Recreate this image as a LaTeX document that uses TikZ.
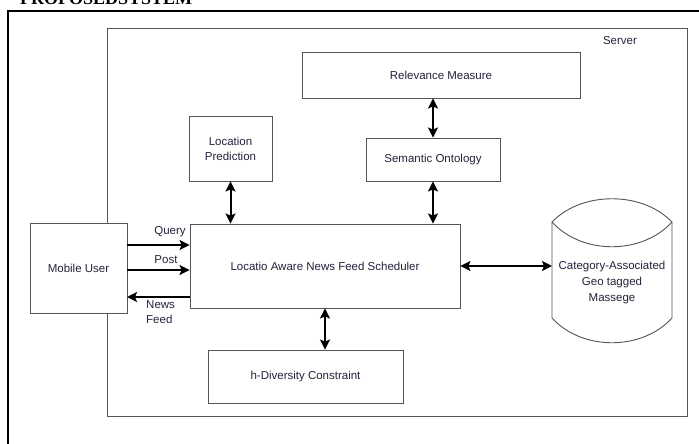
\documentclass[tikz,border=0pt]{standalone}
\usepackage{fontspec}
\setmainfont{Liberation Sans}
\newfontfamily\titlefont{Liberation Serif}
\usetikzlibrary{arrows.meta}
\definecolor{boxgray}{RGB}{85,85,85}
\definecolor{textnavy}{RGB}{35,35,60}

\begin{document}
\begin{tikzpicture}[x=1pt,y=-1pt,
    block/.style={draw=boxgray,line width=0.9pt,fill=white,text=textnavy,
      font=\fontsize{11.5}{15}\selectfont,align=center,inner sep=0pt},
    lbl/.style={text=textnavy,font=\fontsize{11.5}{15}\selectfont,inner sep=0pt},
    link/.style={line width=2pt,{Stealth[length=10pt,width=10pt,inset=2pt]}-{Stealth[length=10pt,width=10pt,inset=2pt]}},
    feed/.style={line width=2pt,-{Stealth[length=10pt,width=10pt,inset=2pt]}}]
    \useasboundingbox (0,0) rectangle (699,444);

    % Frame and title
    \node[anchor=base west,inner sep=0pt,font=\titlefont\bfseries\fontsize{18}{18}\selectfont] (title) at (20,5) {PROPOSEDSYSTEM};
    \draw[line width=2.5pt] (8,470) |- (720,11);

    % Server
    \draw[boxgray,line width=1pt] (107,29) rectangle (687,416);
    \node[lbl] (server) at (620,41) {Server};

    % Blocks
    \node[block,minimum width=278,minimum height=46] (relev) at (441,75) {Relevance Measure};
    \node[block,minimum width=134,minimum height=43] (sem) at (433,159.5) {Semantic Ontology};
    \node[block,minimum width=83,minimum height=65] (loc) at (230.5,148.5) {Location\\Prediction};
    \node[block,minimum width=270,minimum height=84] (sched) at (325,266) {Locatio Aware News Feed Scheduler};
    \node[block,minimum width=97,minimum height=90] (user) at (78.5,268) {Mobile User};
    \node[block,minimum width=195,minimum height=53] (hdiv) at (305.5,376.5) {h-Diversity Constraint};

    % Database
    \draw[boxgray,line width=0.9pt,fill=white] (552,222) .. controls (582,191) and (642,191) .. (672,222)
      -- (672,318) .. controls (642,351) and (582,351) .. (552,318) -- cycle;
    \draw[boxgray,line width=0.9pt] (552,222) .. controls (582,255) and (642,255) .. (672,222);
    \node[lbl,align=center,font=\fontsize{11.5}{16}\selectfont] (db) at (612,283) {Category-Associated\\Geo tagged\\Massege};
    \coordinate (dbside) at (552,266);

    % Arrows
    \draw[link] (loc.south) -- (loc.south |- sched.north);
    \draw[link] (sem.south) -- (sem.south |- sched.north);
    \draw[link] (sem.north) -- (sem.north |- relev.south);
    \draw[link] (sched.south) -- (sched.south |- hdiv.north);
    \draw[link] (sched.east) -- (dbside);

    \coordinate (q) at (127,245);
    \coordinate (p) at (127,270);
    \coordinate (n) at (127,297);
    \draw[feed] (q) -- (q -| sched.west);
    \draw[feed] (p) -- (p -| sched.west);
    \draw[feed] (n -| sched.west) -- (n);

    % Labels
    \node[lbl] (query) at (170,232) {Query};
    \node[lbl] (post) at (166,260) {Post};
    \node[lbl,align=left,anchor=north west] (news) at (146,300) {News\\Feed};
\end{tikzpicture}
\end{document}
